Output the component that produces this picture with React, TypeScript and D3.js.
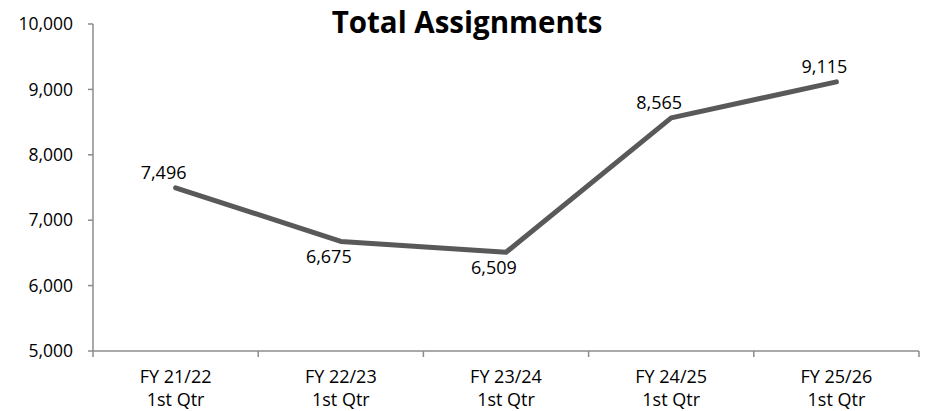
import React from "react";
import * as d3 from "d3";

const title = "Total Assignments";
const categories = ["FY 21/22", "FY 22/23", "FY 23/24", "FY 24/25", "FY 25/26"];
const subLabels = ["1st Qtr", "1st Qtr", "1st Qtr", "1st Qtr", "1st Qtr"];
const values = [7496, 6675, 6509, 8565, 9115];
const yTicks = [5000, 6000, 7000, 8000, 9000, 10000];

const W = 930;
const H = 411;
const M = { left: 93, right: 11, top: 24, bottom: 60 };
const FONT = "'Open Sans', 'Noto Sans', sans-serif";

export default function App() {
  const x = d3.scaleBand<string>().domain(categories).range([M.left, W - M.right]).padding(0);
  const y = d3.scaleLinear().domain([5000, 10000]).range([H - M.bottom, M.top]);
  const fmt = d3.format(",");
  const cx = (c: string) => (x(c) as number) + x.bandwidth() / 2;
  const line = d3
    .line<number>()
    .x((_, i) => cx(categories[i]))
    .y((v) => y(v));
  const axisColor = "#8c8c8c";
  const y0 = y(5000);
  const boundaries = [...categories.map((c) => x(c) as number), W - M.right];

  return (
    <svg width={W} height={H} style={{ position: "absolute", left: 0, top: 0 }}>
      <rect width={W} height={H} fill="#fff" />
      <text x={467} y={33} textAnchor="middle" fontFamily={FONT} fontWeight="bold" fontSize={29.5} fill="#000">
        {title}
      </text>
      {/* y axis */}
      <line x1={M.left} x2={M.left} y1={y(10000)} y2={y0} stroke={axisColor} strokeWidth={1.5} />
      {yTicks.map((t) => (
        <g key={t}>
          <line x1={M.left - 5} x2={M.left} y1={y(t)} y2={y(t)} stroke={axisColor} strokeWidth={1.5} />
          <text x={73} y={y(t)} dy="0.35em" textAnchor="end" fontFamily={FONT} fontSize={17.5} fill="#000">
            {fmt(t)}
          </text>
        </g>
      ))}
      {/* x axis */}
      <line x1={M.left} x2={W - M.right} y1={y0} y2={y0} stroke={axisColor} strokeWidth={1.5} />
      {boundaries.map((b, i) => (
        <line key={i} x1={b} x2={b} y1={y0} y2={y0 + 6} stroke={axisColor} strokeWidth={1.5} />
      ))}
      {categories.map((c, i) => (
        <text key={c} x={cx(c)} textAnchor="middle" fontFamily={FONT} fontSize={18} fill="#000">
          <tspan x={cx(c)} y={383}>{c}</tspan>
          <tspan x={cx(c)} y={406}>{subLabels[i]}</tspan>
        </text>
      ))}
      {/* line */}
      <path d={line(values) || ""} fill="none" stroke="#595959" strokeWidth={5} strokeLinejoin="round" strokeLinecap="round" />
      {values.map((v, i) => {
        const below = i > 0 && v < values[i - 1];
        return (
          <text
            key={i}
            x={cx(categories[i]) - 12}
            y={y(v) + (below ? 22 : -9)}
            textAnchor="middle"
            fontFamily={FONT}
            fontSize={18}
            fill="#000"
          >
            {fmt(v)}
          </text>
        );
      })}
    </svg>
  );
}
